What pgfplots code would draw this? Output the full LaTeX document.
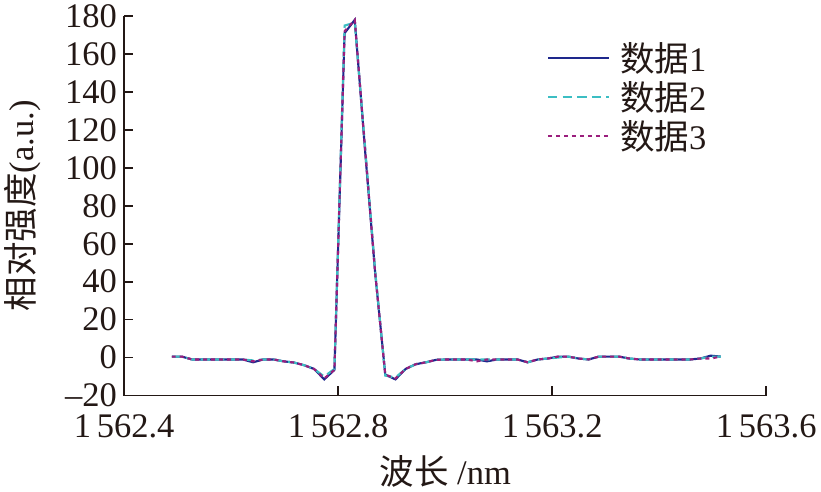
\documentclass[border=0pt]{standalone}
\usepackage{pgfplots}
\pgfplotsset{compat=1.18}
\usepackage{pgfplotstable}
\usepackage{fontspec}
\setmainfont{Liberation Serif}
\newfontfamily\cjk{Noto Sans CJK SC}
\definecolor{cA}{RGB}{30,40,140}
\definecolor{cB}{RGB}{60,190,195}
\definecolor{cC}{RGB}{155,30,125}
\definecolor{ink}{RGB}{35,24,21}

\pgfplotstableread{
x y
1562.489 0.5
1562.508 0.5
1562.527 -1
1562.546 -1
1562.565 -1
1562.584 -1
1562.603 -1
1562.622 -1
1562.641 -2.5
1562.660 -1
1562.679 -1
1562.698 -2
1562.717 -2.6
1562.736 -4
1562.755 -6
1562.774 -11.5
1562.793 -6.5
1562.812 171
1562.831 178
1562.850 110
1562.869 45
1562.888 -9
1562.907 -11.5
1562.926 -6
1562.945 -3.5
1562.964 -2.5
1562.983 -1.2
1563.002 -1
1563.021 -1
1563.040 -1
1563.059 -1
1563.078 -2
1563.097 -1
1563.116 -1
1563.135 -1
1563.154 -2.5
1563.173 -1
1563.192 -0.5
1563.211 0.5
1563.230 0.5
1563.249 -0.5
1563.268 -1
1563.287 0.5
1563.306 0.5
1563.325 0.5
1563.344 -0.5
1563.363 -1
1563.382 -1
1563.401 -1
1563.420 -1
1563.439 -1
1563.458 -1
1563.477 -0.5
1563.496 1
1563.515 0.5
}\dataA

\pgfplotstableread{
x y
1562.489 0.5
1562.508 0.5
1562.527 -1
1562.546 -1
1562.565 -1
1562.584 -1
1562.603 -1
1562.622 -1
1562.641 -1.5
1562.660 -1
1562.679 -1
1562.698 -2
1562.717 -2.6
1562.736 -4
1562.755 -6
1562.774 -10
1562.793 -6
1562.812 175
1562.831 176.5
1562.850 112
1562.869 46
1562.888 -9.5
1562.907 -10.5
1562.926 -6
1562.945 -3.5
1562.964 -2.5
1562.983 -1.2
1563.002 -1
1563.021 -1
1563.040 -1
1563.059 -1
1563.078 -1
1563.097 -1
1563.116 -1
1563.135 -1
1563.154 -2.5
1563.173 -1
1563.192 -0.5
1563.211 0
1563.230 0.5
1563.249 -0.5
1563.268 -1
1563.287 0.5
1563.306 0.5
1563.325 0.5
1563.344 -0.5
1563.363 -1
1563.382 -1
1563.401 -1
1563.420 -1
1563.439 -1
1563.458 -1
1563.477 -0.5
1563.496 0.5
1563.515 0.5
}\dataB

\pgfplotstableread{
x y
1562.489 0.5
1562.508 0.5
1562.527 -1
1562.546 -1
1562.565 -1
1562.584 -1
1562.603 -1
1562.622 -1
1562.641 -2
1562.660 -1
1562.679 -1
1562.698 -2
1562.717 -2.6
1562.736 -4
1562.755 -6
1562.774 -11
1562.793 -6.5
1562.812 172
1562.831 178
1562.850 111
1562.869 45
1562.888 -9
1562.907 -11
1562.926 -6
1562.945 -3.5
1562.964 -2.5
1562.983 -1.2
1563.002 -1
1563.021 -1
1563.040 -1
1563.059 -2
1563.078 -1
1563.097 -1
1563.116 -1
1563.135 -1
1563.154 -2.5
1563.173 -1
1563.192 -0.5
1563.211 0.5
1563.230 0.5
1563.249 -0.5
1563.268 -1
1563.287 0.5
1563.306 0.5
1563.325 0.5
1563.344 -0.5
1563.363 -1
1563.382 -1
1563.401 -1
1563.420 -1
1563.439 -1
1563.458 -1
1563.477 -0.5
1563.496 -0.5
1563.515 0.5
}\dataC

\begin{document}
\begin{tikzpicture}
\begin{axis}[
  scale only axis,
  width=484pt, height=286pt,
  xmin=1562.4, xmax=1563.6,
  ymin=-20, ymax=180,
  axis x line*=bottom, axis y line*=left,
  axis line style={line width=1.3pt, ink},
  every tick/.style={line width=1.3pt, ink},
  tick align=inside,
  major tick length=7pt,
  xtick={1562.4,1562.8,1563.2,1563.6},
  xticklabels={1\,562.4,1\,562.8,1\,563.2,1\,563.6},
  ytick={-20,0,20,40,60,80,100,120,140,160,180},
  yticklabels={--20,0,20,40,60,80,100,120,140,160,180},
  tick label style={font=\fontsize{26}{30}\selectfont, text=ink},
  yticklabel style={xshift=-2pt},
  xticklabel style={yshift=-11pt},
  xlabel={{\cjk 波长} /nm},
  ylabel={{\cjk 相对强度}(a.u.)},
  every axis x label/.style={at={(axis description cs:0.5,0)}, anchor=center, yshift=-57pt, font=\fontsize{26}{30}\selectfont, text=ink},
  every axis y label/.style={at={(axis description cs:-0.158,0.5)}, anchor=center, rotate=90, font=\fontsize{26}{30}\selectfont, text=ink},
  legend style={at={(0.652,0.945)}, anchor=north west, draw=none, fill=none,
    font=\fontsize{26}{30}\selectfont, text=ink, row sep=2pt,
    /tikz/every odd column/.append style={column sep=6pt}},
  legend cell align=left,
  legend image code/.code={\draw[#1] (0cm,0cm) -- (1.6cm,0cm);},
  clip=false,
]
\addplot[cA, line width=1.6pt] table[x=x,y=y] {\dataA};
\addlegendentry{{\cjk 数据}1}
\addplot[cB, line width=1.6pt, dash pattern=on 7pt off 4pt] table[x=x,y=y] {\dataB};
\addlegendentry{{\cjk 数据}2}
\addplot[cC, line width=1.6pt, dash pattern=on 3pt off 3pt] table[x=x,y=y] {\dataC};
\addlegendentry{{\cjk 数据}3}
\end{axis}
\end{tikzpicture}
\end{document}
